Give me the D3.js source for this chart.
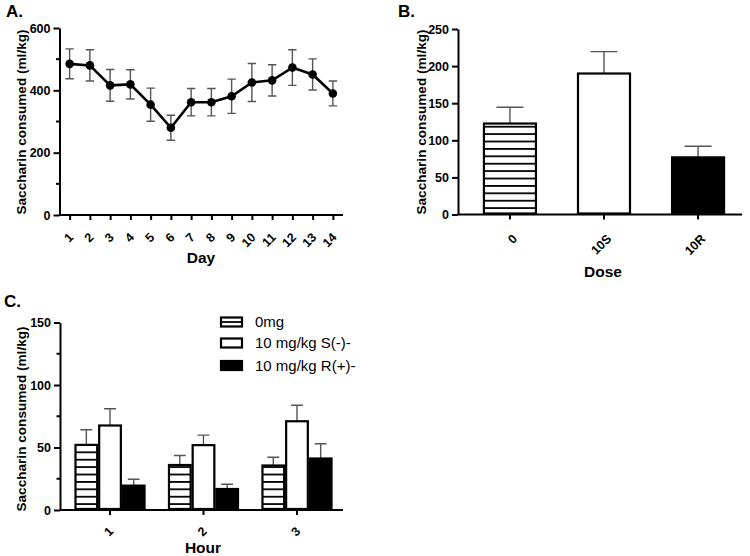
<!DOCTYPE html>
<html><head><meta charset="utf-8">
<script src="https://cdn.jsdelivr.net/npm/d3@7"></script>
<style>
body{margin:0;background:#fff}
text{font-family:"Liberation Sans",Arial,sans-serif}
</style>
</head><body>
<svg id="chart" width="750" height="556"></svg>
<script>
// ---- Data ----
const days = ["1","2","3","4","5","6","7","8","9","10","11","12","13","14"];
const dayMeans = [485,480,416,419,354,280,362,362,381,425,432,473,451,390];
const daySem = [48,50,51,47,53,40,44,44,55,61,50,57,50,40];
const yTicksA = [0,200,400,600];
const yMinorA = [100,300,500];

const doses = ["0","10S","10R"];
const doseMeans = [122.6,190,77];
const doseSem = [22,29.5,15];
const yTicksB = [0,50,100,150,200,250];

const hours = ["1","2","3"];
const groups = ["0mg","10 mg/kg S(-)-","10 mg/kg R(+)-"];
const hourMeans0 = [52.1,36,35.6];
const hourMeansS = [67.6,51.9,71];
const hourMeansR = [19.5,16.8,41.2];
const hourSem0 = [12.1,7.6,6.6];
const hourSemS = [13.4,8,12.8];
const hourSemR = [5.1,3.8,11.8];
const yTicksC = [0,50,100,150];
const yMinorC = [25,75,125];

const svg = d3.select("#chart");
const defs = svg.append("defs");
const pat = defs.append("pattern").attr("id","stripes").attr("patternUnits","userSpaceOnUse")
  .attr("width",10).attr("height",7.4);
pat.append("rect").attr("width",10).attr("height",7.4).attr("fill","#fff");
pat.append("rect").attr("y",0).attr("width",10).attr("height",1.8).attr("fill","#000");

const fills = ["url(#stripes)","#fff","#000"];
const ERR = "#555";

function styleAxis(g){
  g.select(".domain").attr("stroke","#000").attr("stroke-width",2);
  g.selectAll(".tick line").attr("stroke","#000").attr("stroke-width",2);
  g.selectAll(".tick text").attr("fill","#000").style("font-size","12.5px").style("font-weight","bold")
   .style("font-family",'"Liberation Sans",Arial,sans-serif');
}
function minorTicks(x0, y, vals){
  svg.append("g").selectAll("line").data(vals).join("line")
    .attr("x1",x0).attr("x2",x0-3.5).attr("y1",d=>y(d)).attr("y2",d=>y(d))
    .attr("stroke","#000").attr("stroke-width",2);
}
function rotLabels(g, tx, ty){
  g.selectAll(".tick text").attr("x",0).attr("y",0).attr("dy","0.35em")
   .attr("text-anchor","end").attr("transform",`translate(${tx},${ty}) rotate(-45)`);
}
function label(x,y,t,size,weight,anchor){
  return svg.append("text").attr("x",x).attr("y",y).text(t)
   .style("font-size",size+"px").style("font-weight",weight||"bold").attr("text-anchor",anchor||"start");
}
function yTitle(x,y,t){
  svg.append("text").attr("transform",`translate(${x},${y}) rotate(-90)`).attr("text-anchor","middle")
   .attr("dy","0.35em").text(t).style("font-size","13.6px").style("font-weight","bold");
}

// ---- Panel A ----
{
  const x0 = 59.5, x1 = 343;
  const x = d3.scalePoint().domain(days).range([x0,x1]).padding(0.5);
  const y = d3.scaleLinear().domain([0,600]).range([215,28]);
  const gy = svg.append("g").attr("transform",`translate(${x0},0)`)
    .call(d3.axisLeft(y).tickValues(yTicksA).tickSize(6).tickSizeOuter(0).tickPadding(3));
  styleAxis(gy);
  minorTicks(x0,y,yMinorA);
  const gx = svg.append("g").attr("transform",`translate(0,215)`)
    .call(d3.axisBottom(x).tickSize(5).tickSizeOuter(0));
  styleAxis(gx);
  rotLabels(gx,1,20);
  gx.select(".domain").attr("d",`M${x0},0H${x1}`);
  const eb = svg.append("g").attr("stroke",ERR).attr("stroke-width",1.4).attr("fill","none");
  days.forEach((d,i)=>{
    const cx = x(d), t = y(dayMeans[i]+daySem[i]), b = y(dayMeans[i]-daySem[i]);
    eb.append("path").attr("d",`M${cx},${t}V${b}M${cx-4.2},${t}H${cx+4.2}M${cx-4.2},${b}H${cx+4.2}`);
  });
  svg.append("path").datum(dayMeans).attr("fill","none").attr("stroke","#000").attr("stroke-width",2.6)
    .attr("d",d3.line().x((d,i)=>x(days[i])).y(d=>y(d)));
  svg.append("g").selectAll("circle").data(dayMeans).join("circle")
    .attr("cx",(d,i)=>x(days[i])).attr("cy",d=>y(d)).attr("r",4.3).attr("fill","#000");
  yTitle(21,122,"Saccharin consumed (ml/kg)");
  label(201,263,"Day",15.5,"bold","middle");
  label(6,17,"A.",17);
}

// ---- Panel B ----
{
  const ax0 = 458, x1 = 742;
  const x = d3.scaleBand().domain(doses).range([466,x1]).paddingInner(0.426).paddingOuter(0.18);
  const y = d3.scaleLinear().domain([0,250]).range([214.5,29]);
  const gy = svg.append("g").attr("transform",`translate(${ax0},0)`)
    .call(d3.axisLeft(y).tickValues(yTicksB).tickSize(6).tickSizeOuter(0).tickPadding(3));
  styleAxis(gy);
  const gx = svg.append("g").attr("transform",`translate(0,214.5)`)
    .call(d3.axisBottom(x).tickSize(5).tickSizeOuter(0));
  styleAxis(gx);
  rotLabels(gx,5,22);
  gx.select(".domain").attr("d",`M${ax0},0H${x1}`);
  const bw = x.bandwidth();
  const eb = svg.append("g").attr("stroke",ERR).attr("stroke-width",1.4).attr("fill","none");
  doses.forEach((d,i)=>{
    const cx = x(d)+bw/2, t = y(doseMeans[i]+doseSem[i]), b = y(doseMeans[i]);
    eb.append("path").attr("d",`M${cx},${t}V${b}M${cx-bw/4},${t}H${cx+bw/4}`);
  });
  svg.append("g").selectAll("rect").data(doseMeans).join("rect")
    .attr("x",(d,i)=>x(doses[i])+1).attr("width",bw-2)
    .attr("y",d=>y(d)).attr("height",d=>y(0)-y(d)-1)
    .attr("fill",(d,i)=>fills[i]).attr("stroke","#000").attr("stroke-width",2.2);
  yTitle(421,122,"Saccharin consumed (ml/kg)");
  label(603,277,"Dose",15.5,"bold","middle");
  label(398,17,"B.",17);
}

// ---- Panel C ----
{
  const x0 = 60, x1 = 343;
  const x = d3.scaleBand().domain(hours).range([x0,347]).paddingInner(0.24).paddingOuter(0.155);
  const xi = d3.scaleBand().domain(groups).range([0,x.bandwidth()]).padding(0);
  const y = d3.scaleLinear().domain([0,150]).range([510,322.5]);
  const gy = svg.append("g").attr("transform",`translate(${x0},0)`)
    .call(d3.axisLeft(y).tickValues(yTicksC).tickSize(6).tickSizeOuter(0).tickPadding(3));
  styleAxis(gy);
  minorTicks(x0,y,yMinorC);
  const gx = svg.append("g").attr("transform",`translate(0,510)`)
    .call(d3.axisBottom(x).tickSize(5).tickSizeOuter(0));
  styleAxis(gx);
  rotLabels(gx,1,19);
  gx.select(".domain").attr("d",`M${x0},0H${x1}`);
  const means = [hourMeans0,hourMeansS,hourMeansR];
  const sems = [hourSem0,hourSemS,hourSemR];
  const bw = xi.bandwidth();
  const eb = svg.append("g").attr("stroke",ERR).attr("stroke-width",1.4).attr("fill","none");
  const bars = svg.append("g");
  groups.forEach((g,gi)=>{
    hours.forEach((h,hi)=>{
      const bx = x(h)+xi(g);
      const cx = bx+bw/2, m = means[gi][hi], t = y(m+sems[gi][hi]);
      eb.append("path").attr("d",`M${cx},${t}V${y(m)}M${cx-bw/4},${t}H${cx+bw/4}`);
      bars.append("rect").attr("x",bx+1).attr("width",bw-2).attr("y",y(m)).attr("height",y(0)-y(m)-1)
        .attr("fill",fills[gi]).attr("stroke","#000").attr("stroke-width",2.2);
    });
  });
  const lg = svg.append("g");
  const rowY = [322,343,365.5];
  groups.forEach((g,i)=>{
    lg.append("rect").attr("x",221).attr("y",rowY[i]-4.5).attr("width",21).attr("height",9)
      .attr("fill",i===0?"#fff":fills[i]).attr("stroke","#000").attr("stroke-width",2.2);
    if(i===0) lg.append("line").attr("x1",221).attr("x2",242).attr("y1",rowY[i]).attr("y2",rowY[i])
      .attr("stroke","#000").attr("stroke-width",1.8);
    lg.append("text").attr("x",255).attr("y",rowY[i]).attr("dy","0.35em").text(g)
      .style("font-size","15px").style("font-weight","normal");
  });
  yTitle(21,419,"Saccharin consumed (ml/kg)");
  label(203,553,"Hour",15.5,"bold","middle");
  label(4,307,"C.",17);
}
</script>
</body></html>
